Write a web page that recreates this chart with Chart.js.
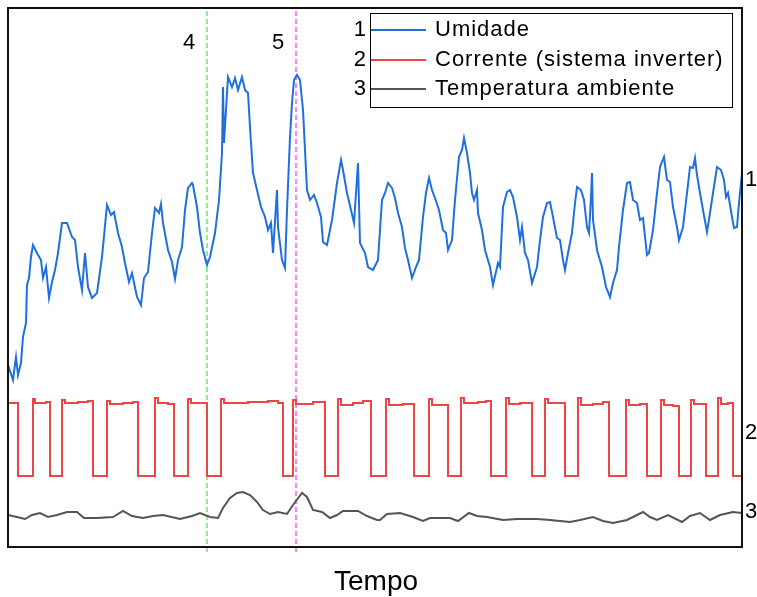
<!DOCTYPE html>
<html lang="pt">
<head>
<meta charset="UTF-8">
<title>Umidade, corrente e temperatura</title>
<script src="https://cdn.jsdelivr.net/npm/chart.js"></script>
<style>
  html, body { margin: 0; padding: 0; background: #fff; }
  #grafico { display: block; }
</style>
</head>
<body>
<canvas id="grafico" width="757" height="597"></canvas>
<script>
// tempo axis runs 0..734 (arbitrary units), signal levels 0..539 (arbitrary, stacked traces)
const tempoUmidade = [0,5,8,10,13,15,18,19,21,23,25,29,33,35,38,41,44,47,50,54,59,64,67,70,74,77,80,84,89,94,99,103,106,110,114,117,121,124,129,133,136,140,144,147,151,153,155,160,164,167,170,174,177,180,184,185,189,192,195,199,202,207,211,214,215,216,218,220,224,227,230,234,237,240,242,245,249,253,257,260,263,265,269,270,274,277,279,282,284,286,289,292,295,297,299,302,306,309,313,315,319,324,329,333,335,339,343,346,350,352,357,360,365,370,372,374,377,380,384,387,390,394,397,400,404,408,411,415,418,421,424,427,431,435,438,440,444,447,451,454,456,459,462,464,466,469,470,474,477,482,485,490,492,495,499,502,505,509,512,514,517,520,524,529,532,535,539,542,545,549,552,555,557,560,564,567,569,573,576,579,581,583,584,585,589,594,598,602,605,609,611,615,619,622,625,629,632,635,639,641,645,649,652,656,659,662,665,669,671,675,679,682,685,687,689,692,695,699,702,705,709,713,716,718,720,724,726,729,731,734,735];
const umidade = [182,167,190,172,184,210,224,262,269,290,302,294,287,269,280,249,265,277,294,324,324,310,307,280,257,294,260,249,254,290,342,332,335,314,300,284,265,274,250,242,269,275,314,339,334,343,324,297,285,268,287,300,337,359,364,362,340,314,297,282,290,314,347,394,460,404,437,470,460,469,457,470,457,454,420,374,357,340,330,317,324,294,357,320,287,279,337,410,444,467,472,467,437,397,357,347,352,344,330,305,302,327,364,387,377,354,337,324,384,304,294,280,277,287,317,347,354,364,359,349,334,320,299,287,269,280,287,330,354,369,357,349,337,317,314,297,307,347,390,397,409,394,374,354,347,357,334,317,297,280,262,284,280,340,355,357,350,330,307,320,294,287,264,280,307,330,344,345,330,309,307,287,277,294,314,344,360,357,347,320,314,350,374,327,297,280,260,250,264,277,300,337,364,365,347,344,327,329,292,294,317,354,380,390,367,365,340,320,307,320,354,380,379,389,372,354,337,315,334,354,380,377,367,350,354,330,319,320,344,374,377];

// current: each point is the level the trace jumps to at that instant
const tempoCorrente = [0,10,25,27,38,42,54,57,70,80,85,99,102,115,125,130,147,150,160,166,180,183,199,213,216,240,260,270,275,285,288,305,317,330,333,345,355,363,378,381,395,406,421,424,440,453,456,470,478,483,498,501,512,524,537,540,557,570,573,585,595,601,618,621,632,639,653,656,665,671,683,686,698,710,713,720,725,734];
const corrente = [144,71,148,144,145,71,147,144,145,146,71,146,143,144,145,71,149,144,143,71,148,144,71,148,144,145,146,144,71,147,143,145,71,148,142,144,146,71,148,142,143,71,148,142,71,149,144,145,146,71,149,143,144,71,148,144,71,149,142,143,145,71,147,142,143,71,147,142,141,71,147,143,71,149,143,144,71,148];

const tempoTemperatura = [0,9,17,24,32,40,49,59,69,76,89,105,115,124,135,145,155,172,184,192,202,210,215,222,229,235,242,249,255,262,270,279,285,294,299,305,314,322,329,335,350,359,369,372,379,392,405,415,422,442,450,461,469,479,495,509,529,542,562,572,585,595,605,619,629,635,642,649,660,674,682,692,702,712,725,734];
const temperatura = [32,30,28,32,34,30,32,35,35,29,29,30,36,31,29,31,32,28,31,34,30,29,39,49,54,55,52,45,37,33,35,33,42,54,50,37,35,29,32,36,36,31,27,27,33,34,30,26,29,29,26,34,31,30,27,28,28,27,25,27,30,26,24,27,32,35,30,27,32,25,31,34,27,32,35,34];

// marked instants 4 and 5
const marcos = [199, 288];
const rotulosMarcos = ['4', '5'];

const nomes = ['Umidade', 'Corrente (sistema inverter)', 'Temperatura ambiente'];
const cores = ['#1f6fdf', '#f04444', '#555555'];
const coresMarcos = ['#22dd22', '#ff00ff'];

const FONTE = '"Liberation Sans", Arial, sans-serif';

function pontos(xs, ys) {
    return xs.map((x, i) => ({ x: x, y: ys[i] }));
}

const extras = {
    id: 'extras',
    afterDraw(chart) {
        const ctx = chart.ctx;
        const a = chart.chartArea;
        const sx = chart.scales.x, sy = chart.scales.y;
        ctx.save();

        // frame
        ctx.strokeStyle = '#111';
        ctx.lineWidth = 2;
        ctx.strokeRect(a.left, a.top, a.right - a.left, a.bottom - a.top);

        ctx.fillStyle = '#000';
        ctx.textBaseline = 'middle';

        // marker labels
        ctx.font = '22px ' + FONTE;
        ctx.textAlign = 'center';
        marcos.forEach((m, i) => {
            ctx.fillText(rotulosMarcos[i], sx.getPixelForValue(m - 18), sy.getPixelForValue(504));
        });

        // trace numbers at the right edge
        ctx.textAlign = 'left';
        const finais = [umidade[umidade.length - 1] - 10, 114, temperatura[temperatura.length - 1] + 1];
        finais.forEach((v, i) => {
            ctx.fillText(String(i + 1), a.right + 3, sy.getPixelForValue(v));
        });

        // legend
        const lx = 370, ly = 13, lw = 362, lh = 94;
        ctx.fillStyle = '#fff';
        ctx.fillRect(lx, ly, lw, lh);
        ctx.strokeStyle = '#000';
        ctx.lineWidth = 1;
        ctx.strokeRect(lx + 0.5, ly + 0.5, lw, lh);
        const linhas = [30, 60, 89];
        nomes.forEach((n, i) => {
            const y = linhas[i];
            ctx.strokeStyle = cores[i];
            ctx.lineWidth = 2;
            ctx.beginPath();
            ctx.moveTo(lx + 1, y);
            ctx.lineTo(lx + 56, y);
            ctx.stroke();
            ctx.fillStyle = '#000';
            ctx.font = '22px ' + FONTE;
            ctx.textAlign = 'left';
            ctx.letterSpacing = '1px';
            ctx.fillText(n, lx + 65, y);
            ctx.letterSpacing = '0px';
            ctx.textAlign = 'right';
            ctx.fillText(String(i + 1), lx - 4, y);
        });

        // axis title
        ctx.textAlign = 'center';
        ctx.textBaseline = 'alphabetic';
        ctx.font = '28px ' + FONTE;
        ctx.fillText('Tempo', (a.left + a.right) / 2 + 1, 590);

        ctx.restore();
    }
};

const datasets = [
    { label: nomes[0], data: pontos(tempoUmidade, umidade), borderColor: cores[0], borderWidth: 2 },
    { label: nomes[1], data: pontos(tempoCorrente, corrente), borderColor: cores[1], borderWidth: 2, stepped: true },
    { label: nomes[2], data: pontos(tempoTemperatura, temperatura), borderColor: cores[2], borderWidth: 2 }
];
marcos.forEach((m, i) => {
    datasets.push({
        label: 'marco ' + rotulosMarcos[i],
        data: [{ x: m, y: -5 }, { x: m, y: 539 }],
        borderColor: coresMarcos[i],
        borderWidth: 1,
        borderDash: [5, 3],
        clip: false
    });
});

new Chart(document.getElementById('grafico').getContext('2d'), {
    type: 'line',
    data: { datasets: datasets },
    options: {
        responsive: false,
        animation: false,
        layout: { padding: { left: 8, top: 8, right: 15, bottom: 50 } },
        elements: { point: { radius: 0 }, line: { tension: 0, fill: false } },
        plugins: { legend: { display: false }, tooltip: { enabled: false } },
        scales: {
            x: { type: 'linear', min: 0, max: 734, display: false },
            y: { type: 'linear', min: 0, max: 539, display: false }
        }
    },
    plugins: [extras]
});
</script>
</body>
</html>
